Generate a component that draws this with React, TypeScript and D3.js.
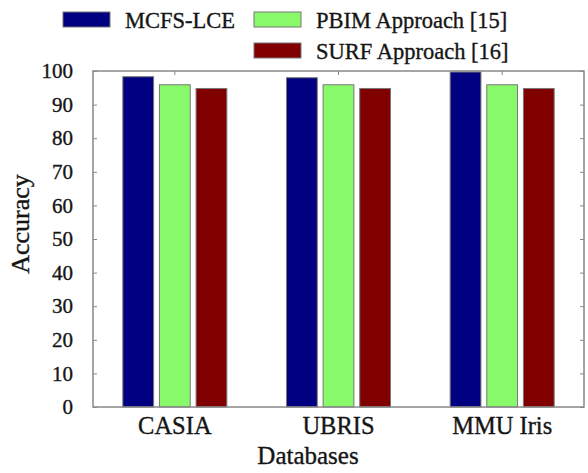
import React, { useEffect, useRef } from 'react';
import * as d3 from 'd3';

const categories = ['CASIA', 'UBRIS', 'MMU Iris'];
const seriesNames = ['MCFS-LCE', 'PBIM Approach [15]', 'SURF Approach [16]'];
const seriesColors = ['#000080', '#88fa6a', '#800000'];
const mcfsValues = [98.3, 98.0, 99.7];
const pbimValues = [95.9, 95.9, 95.9];
const surfValues = [94.8, 94.8, 94.8];
const yTicks = [0, 10, 20, 30, 40, 50, 60, 70, 80, 90, 100];

export default function App() {
  const svgRef = useRef<SVGSVGElement | null>(null);

  useEffect(() => {
    if (!svgRef.current) return;
    const svg = d3.select(svgRef.current);
    svg.selectAll('*').remove();

    const width = 588;
    const height = 473;
    const margin = { top: 71, right: 4, bottom: 66, left: 93 };
    const font = '"Liberation Serif", "Times New Roman", serif';
    const ink = '#151515';

    const series = [mcfsValues, pbimValues, surfValues];
    const rows = categories.map((c, i) => ({
      cat: c,
      vals: series.map((s, j) => ({ name: seriesNames[j], value: s[i], color: seriesColors[j] })),
    }));

    const x0 = d3.scaleBand().domain(categories).range([margin.left, width - margin.right]);
    const x1 = d3.scaleBand().domain(seriesNames).range([0, 104]).paddingInner(0.16);
    const y = d3.scaleLinear().domain([0, 100]).range([height - margin.bottom, margin.top]);

    const frameColor = '#888';

    const styleText = (sel: any, size: number) =>
      sel.attr('font-family', font)
        .attr('font-size', size)
        .attr('fill', ink)
        .attr('stroke', ink)
        .attr('stroke-width', 0.35);

    // Bars
    svg.append('g')
      .selectAll('g')
      .data(rows)
      .join('g')
      .attr('transform', (d) => `translate(${(x0(d.cat) ?? 0) + x0.bandwidth() / 2 - 52},0)`)
      .selectAll('rect')
      .data((d) => d.vals)
      .join('rect')
      .attr('x', (d) => x1(d.name) ?? 0)
      .attr('y', (d) => y(d.value))
      .attr('width', x1.bandwidth())
      .attr('height', (d) => y(0) - y(d.value))
      .attr('fill', (d) => d.color)
      .attr('stroke', '#777')
      .attr('stroke-width', 1);

    // Frame
    svg.append('rect')
      .attr('x', margin.left)
      .attr('y', margin.top)
      .attr('width', width - margin.left - margin.right)
      .attr('height', height - margin.top - margin.bottom)
      .attr('fill', 'none')
      .attr('stroke', frameColor)
      .attr('stroke-width', 1.5);

    // Y axis labels and inward ticks
    svg.append('g')
      .attr('transform', `translate(${margin.left},0)`)
      .call(d3.axisLeft(y).tickValues(yTicks).tickSize(-4).tickPadding(20))
      .call((g) => g.select('.domain').remove())
      .call((g) => g.selectAll('.tick line').attr('stroke', frameColor))
      .call((g) => styleText(g.selectAll('.tick text'), 21));

    svg.append('g')
      .attr('transform', `translate(${width - margin.right},0)`)
      .call(d3.axisRight(y).tickValues(yTicks).tickSize(-4).tickFormat(() => ''))
      .call((g) => g.select('.domain').remove())
      .call((g) => g.selectAll('.tick line').attr('stroke', frameColor));

    // X axis
    svg.append('g')
      .attr('transform', `translate(0,${height - margin.bottom})`)
      .call(d3.axisBottom(x0).tickSize(0).tickPadding(8))
      .call((g) => g.select('.domain').remove())
      .call((g) => styleText(g.selectAll('.tick text'), 24.5).attr('dy', '0.78em'));

    svg.append('g')
      .attr('transform', `translate(0,${margin.top})`)
      .call(d3.axisTop(x0).tickSize(-4).tickFormat(() => ''))
      .call((g) => g.select('.domain').remove())
      .call((g) => g.selectAll('.tick line').attr('stroke', frameColor));

    // Axis titles
    styleText(svg.append('text'), 26)
      .attr('transform', `translate(29,224) rotate(-90)`)
      .attr('text-anchor', 'middle')
      .text('Accuracy');

    styleText(svg.append('text'), 25)
      .attr('x', 308)
      .attr('y', 464)
      .attr('text-anchor', 'middle')
      .text('Databases');

    // Legend
    const legendPos = [
      { x: 63, y: 12 },
      { x: 254, y: 12 },
      { x: 254, y: 43 },
    ];
    const legend = svg.append('g')
      .selectAll('g')
      .data(seriesNames)
      .join('g')
      .attr('transform', (d, i) => `translate(${legendPos[i].x},${legendPos[i].y})`);

    legend.append('rect')
      .attr('width', 47)
      .attr('height', 15)
      .attr('fill', (d, i) => seriesColors[i])
      .attr('stroke', '#777');

    styleText(legend.append('text'), 22.5)
      .attr('x', 62)
      .attr('y', 16)
      .text((d) => d);
  }, []);

  return (
    <svg
      ref={svgRef}
      width={588}
      height={473}
      style={{ display: 'block', position: 'absolute', left: 0, top: 0 }}
    ></svg>
  );
}
